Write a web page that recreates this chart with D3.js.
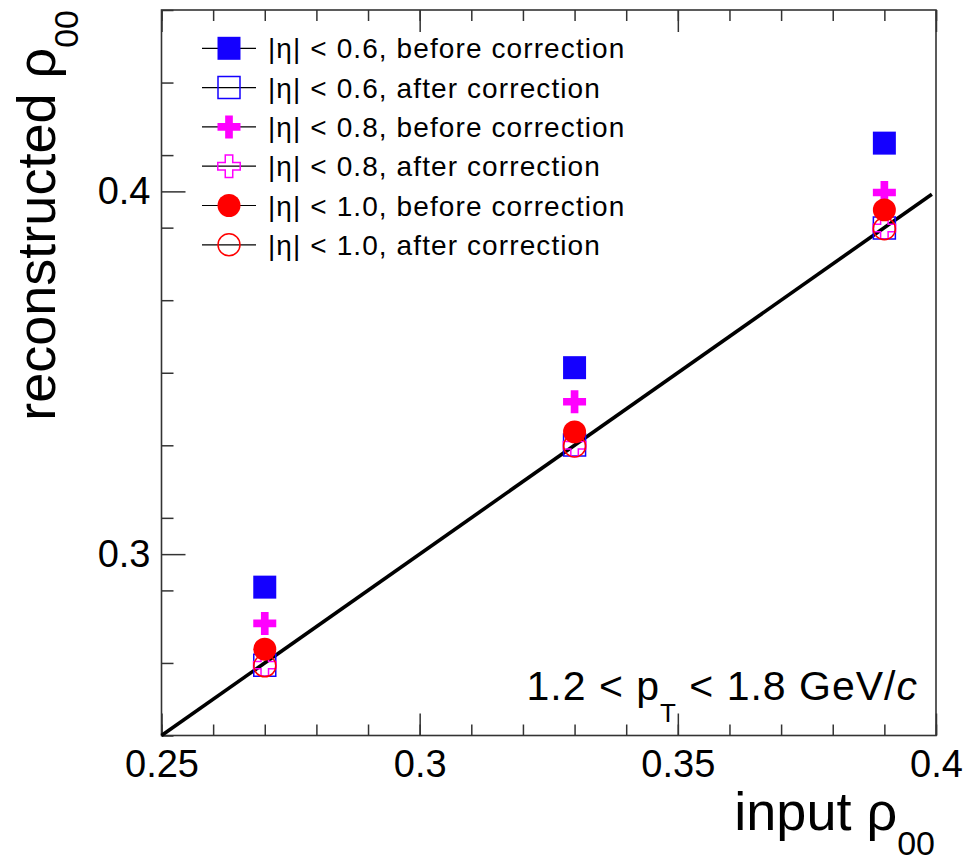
<!DOCTYPE html>
<html>
<head>
<meta charset="utf-8">
<script src="https://cdn.jsdelivr.net/npm/d3@7"></script>
<style>
  body { margin: 0; background: #fff; }
  text { font-family: "Liberation Sans", Arial, Helvetica, sans-serif; fill: #000; }
</style>
</head>
<body>
<script>
// values
const inputRho = [0.27, 0.33, 0.39];
const eta06Before = [0.2909, 0.3514, 0.4133];
const eta06After = [0.2694, 0.3301, 0.3899];
const eta08Before = [0.2809, 0.3420, 0.3997];
const eta08After = [0.2694, 0.3300, 0.3899];
const eta10Before = [0.2738, 0.3337, 0.3949];
const eta10After = [0.2692, 0.3298, 0.3897];

const xMajor = [0.25, 0.3, 0.35, 0.4];
const xMajorLabels = ['0.25', '0.3', '0.35', '0.4'];
const yMajor = [0.3, 0.4];
const yMajorLabels = ['0.3', '0.4'];

const W = 969, H = 865;
const x = d3.scaleLinear([0.25, 0.4], [161.5, 936]);
const y = d3.scaleLinear([0.25, 0.45], [735.5, 10]);

const xMinor = d3.range(25, 41).map(d => d / 100);
const yMinor = d3.range(25, 46, 2).map(d => d / 100);

const svg = d3.select('body').append('svg')
    .attr('width', W)
    .attr('height', H);

const axisColor = '#333';

// bottom axis
const gBottom = svg.append('g').attr('transform', `translate(0,${y.range()[0]})`);
gBottom.append('g')
    .call(d3.axisBottom(x).tickValues(xMinor).tickSize(-11).tickFormat(''));
gBottom.append('g')
    .call(d3.axisBottom(x).tickValues(xMajor).tickSize(-22).tickPadding(15)
        .tickFormat((d, i) => xMajorLabels[i]));

// top axis (ticks only)
const gTop = svg.append('g').attr('transform', `translate(0,${y.range()[1]})`);
gTop.append('g')
    .call(d3.axisTop(x).tickValues(xMinor).tickSize(-11).tickFormat(''));
gTop.append('g')
    .call(d3.axisTop(x).tickValues(xMajor).tickSize(-22).tickFormat(''));

// left axis
const gLeft = svg.append('g').attr('transform', `translate(${x.range()[0]},0)`);
gLeft.append('g')
    .call(d3.axisLeft(y).tickValues(yMinor).tickSize(-12).tickFormat(''));
gLeft.append('g')
    .call(d3.axisLeft(y).tickValues(yMajor).tickSize(-24).tickPadding(11)
        .tickFormat((d, i) => yMajorLabels[i]));

svg.selectAll('.domain').remove();
svg.selectAll('.tick line').attr('stroke', axisColor).attr('stroke-width', 1.5);
svg.selectAll('.tick text').attr('font-size', 38).attr('font-family', null).attr('fill', '#000');

// frame
svg.append('rect')
    .attr('x', x.range()[0]).attr('y', y.range()[1])
    .attr('width', x.range()[1] - x.range()[0])
    .attr('height', y.range()[0] - y.range()[1])
    .attr('fill', 'none')
    .attr('stroke', axisColor)
    .attr('stroke-width', 1.6);

// y = x reference line
svg.append('line')
    .attr('x1', x(0.25)).attr('y1', y(0.25))
    .attr('x2', x(0.3992)).attr('y2', y(0.3992))
    .attr('stroke', '#000')
    .attr('stroke-width', 3.6);

const series = [
  { label: ', before correction', eta: '0.6', values: eta06Before, color: '#1400ff', type: d3.symbolSquare, size: 529, filled: true },
  { label: ', after correction', eta: '0.6', values: eta06After, color: '#1400ff', type: d3.symbolSquare, size: 484, filled: false },
  { label: ', before correction', eta: '0.8', values: eta08Before, color: '#ff00ff', type: d3.symbolCross, size: 294, filled: true },
  { label: ', after correction', eta: '0.8', values: eta08After, color: '#ff00ff', type: d3.symbolCross, size: 280, filled: false },
  { label: ', before correction', eta: '1.0', values: eta10Before, color: '#ff0000', type: d3.symbolCircle, size: 415, filled: true },
  { label: ', after correction', eta: '1.0', values: eta10After, color: '#ff0000', type: d3.symbolCircle, size: 380, filled: false }
];

const styleMarker = (sel, s) => sel
    .attr('d', d3.symbol().type(s.type).size(s.size)())
    .attr('fill', s.filled ? s.color : 'none')
    .attr('stroke', s.filled ? 'none' : s.color)
    .attr('stroke-width', 1.5);

series.forEach(s => {
  svg.append('g').selectAll('path')
    .data(s.values)
    .join('path')
    .attr('transform', (d, i) => `translate(${x(inputRho[i])},${y(d)})`)
    .call(styleMarker, s);
});

// legend
const legend = svg.append('g');
const legY0 = 48.3, legDy = 39.3;
series.forEach((s, i) => {
  const g = legend.append('g').attr('transform', `translate(0,${legY0 + i * legDy})`);
  g.append('line')
      .attr('x1', 202).attr('x2', 256)
      .attr('stroke', '#000').attr('stroke-width', 1.2);
  g.append('path')
      .attr('transform', 'translate(229,0)')
      .call(styleMarker, s);
  g.append('text')
      .attr('x', 268).attr('dy', '0.36em')
      .attr('font-size', 28)
      .attr('letter-spacing', 1.1)
      .text(`|η| < ${s.eta}${s.label}`);
});

// pT range label
const pt = svg.append('text')
    .attr('x', 918).attr('y', 700)
    .attr('text-anchor', 'end')
    .attr('font-size', 41)
    .attr('letter-spacing', 1);
pt.append('tspan').text('1.2 < p');
pt.append('tspan').attr('font-size', 26).attr('dy', 22).text('T');
pt.append('tspan').attr('dy', -22).text(' < 1.8 GeV/');
pt.append('tspan').attr('font-style', 'italic').text('c');

// axis titles
const xt = svg.append('text')
    .attr('x', 935).attr('y', 830)
    .attr('text-anchor', 'end')
    .attr('font-size', 54);
xt.append('tspan').text('input ρ');
xt.append('tspan').attr('font-size', 34).attr('dy', 25).text('00');

const yt = svg.append('text')
    .attr('transform', 'translate(55,10) rotate(-90)')
    .attr('text-anchor', 'end')
    .attr('font-size', 54);
yt.append('tspan').text('reconstructed ρ');
yt.append('tspan').attr('font-size', 34).attr('dy', 23).text('00');
</script>
</body>
</html>
